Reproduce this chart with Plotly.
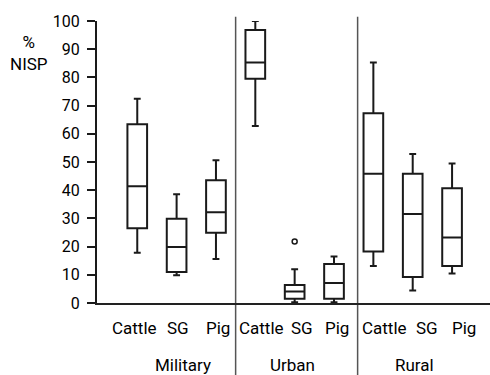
import plotly.graph_objects as go

# Summary statistics (% NISP) for each taxon within each site type
groups = ["Military", "Urban", "Rural"]
taxa = ["Cattle", "SG", "Pig"]

lower_whisker = [17.8, 9.8, 15.6, 62.8, 0.3, 0.3, 13.1, 4.4, 10.5]
q1_values = [26.5, 11.0, 24.9, 79.5, 1.5, 1.5, 18.3, 9.2, 13.1]
medians = [41.4, 19.9, 32.2, 85.3, 4.1, 7.1, 45.8, 31.6, 23.2]
q3_values = [63.4, 29.9, 43.5, 96.8, 6.4, 13.8, 67.3, 45.8, 40.7]
upper_whisker = [72.4, 38.6, 50.6, 100.0, 12.0, 16.5, 85.3, 52.8, 49.5]

# Outlying observations: (position index, value)
outlier_pos = [4]
outlier_vals = [21.8]

y_ticks = list(range(0, 101, 10))

FONT = "Roboto, 'Liberation Sans', sans-serif"
TEXT = "#000000"
positions = list(range(len(medians)))
labels = [t for _ in groups for t in taxa]

fig = go.Figure()
fig.add_trace(go.Box(
    x=positions,
    q1=q1_values,
    median=medians,
    q3=q3_values,
    lowerfence=lower_whisker,
    upperfence=upper_whisker,
    width=0.5,
    whiskerwidth=0.35,
    boxpoints=False,
    fillcolor="rgba(0,0,0,0)",
    line=dict(color="#1a1a1a", width=2),
    showlegend=False,
    hoverinfo="skip",
))
fig.add_trace(go.Scatter(
    x=outlier_pos,
    y=outlier_vals,
    mode="markers",
    marker=dict(symbol="circle-open", size=5, color="#1a1a1a", line=dict(width=1.5)),
    showlegend=False,
    hoverinfo="skip",
))

# Vertical separators between site types
for xd in [2.5, 5.6]:
    fig.add_shape(type="line", xref="x", yref="paper", x0=xd, x1=xd, y0=-0.26, y1=1.015,
                  line=dict(color="#555555", width=1.5), layer="below")

# Taxon labels under each box (small hand nudges in px)
label_nudge = [-3, 1, 2, 6.5, 7, 2.5, 11, 14, 12]
for p, lab, dx in zip(positions, labels, label_nudge):
    fig.add_annotation(x=p, y=0, xref="x", yref="paper", text=lab, showarrow=False,
                       xshift=dx, yshift=-25, yanchor="middle",
                       font=dict(family=FONT, size=17, color=TEXT))

# Site-type labels
group_nudge = [6, -2, 2]
for gi, (g, dx) in enumerate(zip(groups, group_nudge)):
    fig.add_annotation(x=gi * 3 + 1, y=0, xref="x", yref="paper",
                       text=g, showarrow=False,
                       xshift=dx, yshift=-62, yanchor="middle",
                       font=dict(family=FONT, size=17, color=TEXT))

# Y-axis title
fig.add_annotation(x=0, y=1, xref="paper", yref="paper", text="%<br>NISP", showarrow=False,
                   xshift=-68, yshift=-32, xanchor="center", yanchor="middle", align="center",
                   font=dict(family=FONT, size=17, color=TEXT))

fig.update_layout(
    width=490, height=375,
    margin=dict(l=97, r=0, t=21, b=72),
    paper_bgcolor="white", plot_bgcolor="white",
    font=dict(family=FONT, size=16, color=TEXT),
)
fig.update_xaxes(range=[-1.023, 8.964], showticklabels=False, ticks="",
                 showgrid=False, zeroline=False, showline=True,
                 linecolor="#222222", linewidth=2)
fig.update_yaxes(range=[0, 100], tickvals=y_ticks, ticks="outside", ticklen=8, tickwidth=2,
                 tickcolor="#1a1a1a", showgrid=False, zeroline=False, showline=True,
                 linecolor="#1a1a1a", linewidth=2, ticklabelstandoff=4,
                 tickfont=dict(family=FONT, size=16, color=TEXT))

fig.write_html("out.html")
